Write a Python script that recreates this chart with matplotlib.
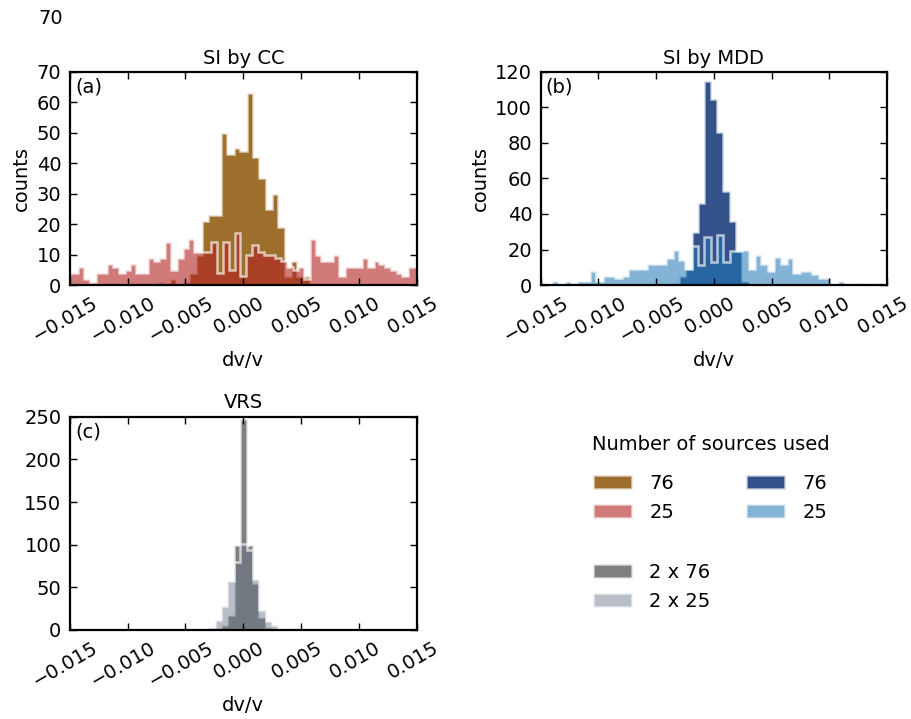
import numpy as np
import matplotlib
matplotlib.use('Agg')
import matplotlib.pyplot as plt
import matplotlib.transforms as mtransforms
from matplotlib.patches import Patch

# bin widths (bins are centred on 0)
W = 0.00055
W_CC25 = 0.0005

# SI by CC, 76 sources (first bin index, counts)
cc76_first = -13
cc76 = [1, 0, 2, 0, 1, 4, 10, 21, 23, 23, 50, 43, 45, 44, 63, 42, 35, 25, 30, 19,
        3, 8, 3, 3]
# SI by CC, 25 sources
cc25_first = -30
cc25 = [4, 4, 6, 2, 1, 4, 4, 7, 6, 4, 5, 7, 4, 4, 9, 8, 9, 14, 5, 9,
        12, 15, 11, 11, 11, 14, 4, 14, 5, 17, 3, 10, 13, 11, 10, 10, 9, 8, 6, 5,
        6, 2, 15, 10, 8, 8, 10, 3, 6, 6, 6, 9, 6, 8, 7, 6, 5, 4, 3, 6, 6]

# SI by MDD
mdd76_first = -6
mdd76 = [1, 5, 9, 30, 46, 115, 105, 86, 53, 36, 19, 2, 0]
mdd25_first = -27
mdd25 = [1, 0, 2, 0, 2, 1, 2, 2, 8, 2, 5, 5, 4, 5, 9, 9, 9, 12, 12, 12,
         15, 20, 14, 9, 22, 11, 27, 13, 28, 13, 19, 19, 20, 9, 17, 12, 8, 16, 12, 15,
         7, 8, 8, 6, 4, 4, 0, 2, 1, 0, 1, 0, 0, 1, 0]

# VRS
vrs76_first = -4
vrs76 = [2, 6, 18, 100, 247, 100, 55, 15, 4]
vrs25_first = -5
vrs25 = [4, 12, 28, 57, 80, 101, 94, 60, 24, 10, 6, 0, 2]

xticks = [-0.015, -0.01, -0.005, 0.0, 0.005, 0.01, 0.015]
xlabels = ['\u22120.015', '\u22120.010', '\u22120.005', '0.000', '0.005', '0.010', '0.015']

c_cc76 = '#9e6e2d'
c_cc25 = (178/255, 34/255, 34/255, 0.6)
c_mdd76 = '#33528a'
c_mdd25 = (31/255, 119/255, 180/255, 0.55)
c_vrs76 = '#7f7f7f'
c_vrs25 = (99/255, 115/255, 133/255, 0.45)
edge = (1, 1, 1, 0.65)

plt.rcParams.update({
    'font.size': 14,
    'axes.linewidth': 1.6,
    'xtick.direction': 'in', 'ytick.direction': 'in',
    'xtick.top': True, 'ytick.right': True,
    'xtick.major.size': 5, 'ytick.major.size': 5,
    'xtick.major.width': 1.0, 'ytick.major.width': 1.0,
    'xtick.major.pad': 6, 'ytick.major.pad': 6,
})


def edges(first, n, w):
    return (np.arange(first, first + n + 1) - 0.5) * w


def draw(ax, first, counts, w, fc):
    ax.stairs(counts, edges(first, len(counts), w), fill=True,
              facecolor=fc, edgecolor=edge, linewidth=1.8)


fig = plt.figure(figsize=(9.12, 7.19), dpi=100)
ax_a = fig.add_axes([0.0764, 0.6036, 0.3808, 0.2963])
ax_b = fig.add_axes([0.5927, 0.6036, 0.3800, 0.2963])
ax_c = fig.add_axes([0.0764, 0.1238, 0.3808, 0.2966])

draw(ax_a, cc76_first, cc76, W, c_cc76)
draw(ax_a, cc25_first, cc25, W_CC25, c_cc25)
draw(ax_b, mdd76_first, mdd76, W, c_mdd76)
draw(ax_b, mdd25_first, mdd25, W, c_mdd25)
draw(ax_c, vrs76_first, vrs76, W, c_vrs76)
draw(ax_c, vrs25_first, vrs25, W, c_vrs25)

shift = mtransforms.ScaledTranslation(-4/100, 0, fig.dpi_scale_trans)
for ax, tag, title, ymax, ystep in [(ax_a, '(a)', 'SI by CC', 70, 10),
                                    (ax_b, '(b)', 'SI by MDD', 120, 20),
                                    (ax_c, '(c)', 'VRS', 250, 50)]:
    ax.set_xlim(-0.015, 0.015)
    ax.set_ylim(0, ymax)
    ax.set_yticks(np.arange(0, ymax + 1, ystep))
    ax.set_xticks(xticks)
    ax.set_xticklabels(xlabels, rotation=30)
    for lab in ax.get_xticklabels():
        lab.set_transform(lab.get_transform() + shift)
    ax.set_xlabel('dv/v')
    ax.set_title(title, fontsize=14, pad=6)
    ax.text(0.015, 0.975, tag, transform=ax.transAxes, ha='left', va='top')
ax_a.set_ylabel('counts')
ax_b.set_ylabel('counts')

fig.text(592/912, 1 - 444/719, 'Number of sources used', va='center', ha='left')
h1 = [Patch(facecolor=c_cc76, edgecolor=edge, lw=1.8),
      Patch(facecolor=c_cc25, edgecolor=edge, lw=1.8),
      Patch(facecolor=c_mdd76, edgecolor=edge, lw=1.8),
      Patch(facecolor=c_mdd25, edgecolor=edge, lw=1.8)]
leg1 = fig.legend(h1, ['76', '25', '76', '25'], ncol=2, frameon=False,
                  loc='upper left', bbox_to_anchor=(593/912, 1 - 474/719),
                  borderpad=0, borderaxespad=0, handlelength=2.0,
                  handletextpad=0.9, columnspacing=3.7, labelspacing=0.5)
h2 = [Patch(facecolor=c_vrs76, edgecolor=edge, lw=1.8),
      Patch(facecolor=c_vrs25, edgecolor=edge, lw=1.8)]
leg2 = fig.legend(h2, ['2 x 76', '2 x 25'], frameon=False,
                  loc='upper left', bbox_to_anchor=(593/912, 1 - 563/719),
                  borderpad=0, borderaxespad=0, handlelength=2.0,
                  handletextpad=0.9, labelspacing=0.5)

fig.text(38/912, 1 - 18/719, '70', va='center', ha='left')

fig.savefig('out.png', dpi=100, facecolor='white')
